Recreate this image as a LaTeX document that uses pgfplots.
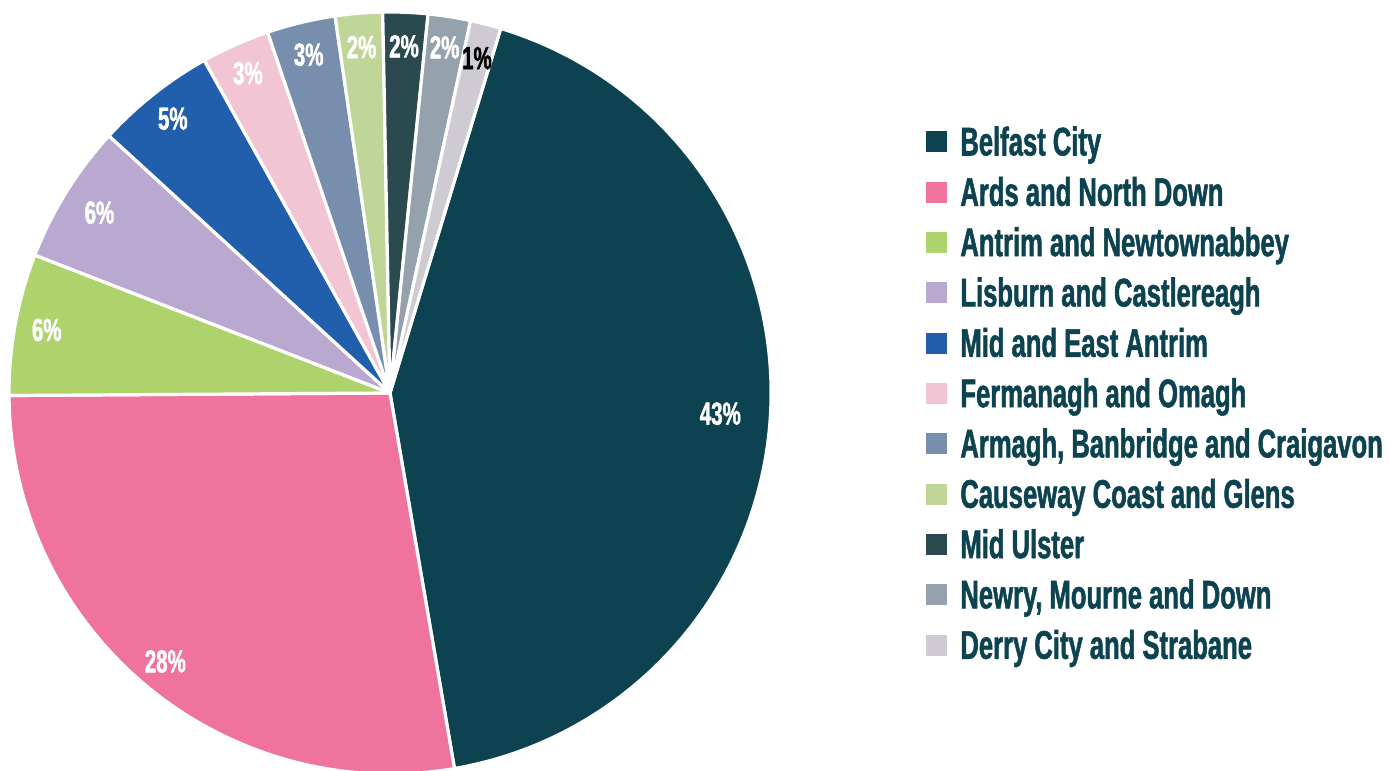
\documentclass[border=0pt]{standalone}
\usepackage{pgfplots}
\pgfplotsset{compat=1.18}
\usepackage{pgfplotstable}
\usepackage{fontspec}
\setmainfont{Liberation Sans}
\newfontfamily\cond[FakeStretch=0.64, FakeBold=1.3]{Liberation Sans Bold}

\definecolor{cBel}{HTML}{0D4350}
\definecolor{cArd}{HTML}{F0739D}
\definecolor{cAnt}{HTML}{AED36C}
\definecolor{cLis}{HTML}{B9A9D1}
\definecolor{cMea}{HTML}{215EAC}
\definecolor{cFer}{HTML}{F1C5D4}
\definecolor{cArm}{HTML}{778FAD}
\definecolor{cCau}{HTML}{C0D598}
\definecolor{cMid}{HTML}{2A4A4F}
\definecolor{cNew}{HTML}{95A1AC}
\definecolor{cDer}{HTML}{CECBD2}
\definecolor{txt}{HTML}{0D4350}

% share of each council (percent), slice colour, label radius (px), label colour
\pgfplotstableread[col sep=semicolon]{
name;value;col;lr;lc
Belfast City;42.6;cBel;331;white
Ards and North Down;27.6;cArd;350;white
Antrim and Newtownabbey;6.0;cAnt;349;white
Lisburn and Castlereagh;5.9;cLis;342;white
Mid and East Antrim;5.1;cMea;350;white
Fermanagh and Omagh;2.9;cFer;350;white
Armagh, Banbridge and Craigavon;2.9;cArm;348;white
Causeway Coast and Glens;2.0;cCau;347;white
Mid Ulster;1.9;cMid;347;white
Newry, Mourne and Down;1.8;cNew;350;white
Derry City and Strabane;1.3;cDer;346;black
}\pietable

\newcommand\pielab[2]{{\color{#2}\cond\fontsize{16}{16}\selectfont #1\%}}
\newcommand\leglab[1]{{\color{txt}\cond\fontsize{20}{20}\selectfont #1}}

\begin{document}
\begin{tikzpicture}
\useasboundingbox (0,0) rectangle (694.5pt,385.5pt);
\begin{axis}[x=0.5pt, y=0.5pt, xmin=0, xmax=1389, ymin=0, ymax=771,
  hide axis, clip=false, at={(0,0)}, anchor=south west]
\pgfplotstablegetrowsof{\pietable}
\pgfmathtruncatemacro\nrows{\pgfplotsretval-1}
\def\cumangle{73.1}
\pgfplotsforeachungrouped \i in {0,...,\nrows}{
  \pgfplotstablegetelem{\i}{value}\of\pietable \let\val\pgfplotsretval
  \pgfplotstablegetelem{\i}{col}\of\pietable \let\col\pgfplotsretval
  \pgfplotstablegetelem{\i}{lr}\of\pietable \let\lr\pgfplotsretval
  \pgfplotstablegetelem{\i}{lc}\of\pietable \let\lc\pgfplotsretval
  \pgfplotstablegetelem{\i}{name}\of\pietable \let\nm\pgfplotsretval
  \pgfmathsetmacro\aend{\cumangle-3.6*\val}
  \pgfmathsetmacro\amid{(\cumangle+\aend)/2}
  \pgfmathsetmacro\lx{390+\lr*cos(\amid)}
  \pgfmathsetmacro\ly{378+\lr*sin(\amid)}
  \pgfmathtruncatemacro\pct{round(\val)}
  \pgfmathsetmacro\ry{771-142-50.33*\i}
  \pgfmathsetmacro\rb{\ry-13.5}
  \edef\temp{%
    \noexpand\fill[\col, draw=white, line width=1.6pt, line join=round]
      (axis cs:390,378) -- ++(\cumangle:190.5pt)
      arc[start angle=\cumangle, end angle=\aend, radius=190.5pt] -- cycle;
    \noexpand\node at (axis cs:\lx,\ly) {\noexpand\pielab{\pct}{\lc}};
    \noexpand\fill[\col] (axis cs:926,\ry-10.5) rectangle (axis cs:947,\ry+10.5);
    \noexpand\node[anchor=base west, inner sep=0pt] at (axis cs:960,\rb) {\noexpand\leglab{\nm}};
  }
  \temp
  \global\let\cumangle\aend
}
\end{axis}
\end{tikzpicture}
\end{document}
